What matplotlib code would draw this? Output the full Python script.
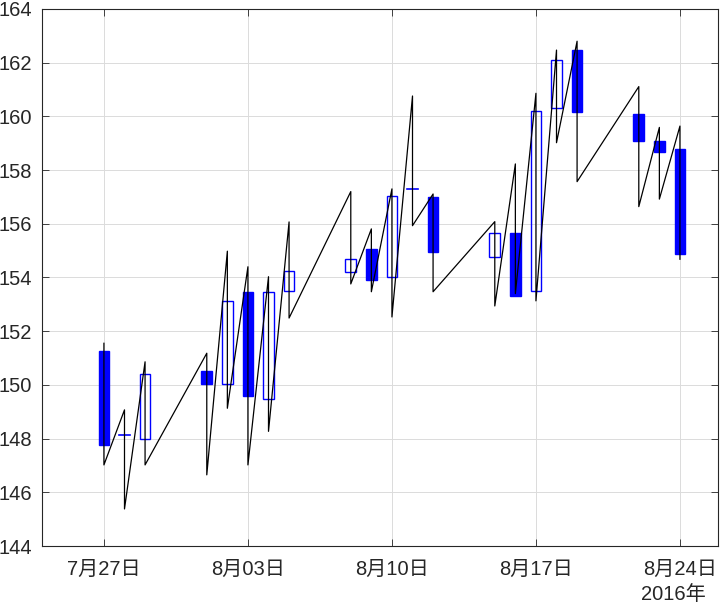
import matplotlib
matplotlib.use("Agg")
import matplotlib.pyplot as plt
import matplotlib.dates as mdates
import matplotlib.transforms as mtransforms
import numpy as np

plt.rcParams['font.family'] = ['Liberation Sans', 'Noto Sans CJK JP', 'DejaVu Sans']

# trading days, Jul 27 - Aug 24 2016
dates = np.array([
    "2016-07-27", "2016-07-28", "2016-07-29",
    "2016-08-01", "2016-08-02", "2016-08-03", "2016-08-04", "2016-08-05",
    "2016-08-08", "2016-08-09", "2016-08-10", "2016-08-11", "2016-08-12",
    "2016-08-15", "2016-08-16", "2016-08-17", "2016-08-18", "2016-08-19",
    "2016-08-22", "2016-08-23", "2016-08-24",
], dtype="datetime64[D]")

opens = np.array([
    151.25, 148.12, 147.97,
    150.52, 150.02, 153.45, 149.46, 153.49,
    154.19, 155.06, 154.03, 157.30, 156.99,
    154.75, 155.66, 153.50, 160.30, 162.47,
    160.09, 159.08, 158.79,
])
closes = np.array([
    147.75, 148.12, 150.41,
    150.03, 153.11, 149.58, 153.45, 154.25,
    154.68, 153.90, 157.02, 157.30, 154.96,
    155.65, 153.32, 160.19, 162.09, 160.15,
    159.10, 158.66, 154.89,
])
highs = np.array([
    151.55, 149.07, 150.86,
    151.18, 154.98, 154.40, 154.03, 156.07,
    157.20, 155.81, 157.30, 160.76, 157.11,
    156.08, 158.23, 160.86, 162.47, 162.80,
    161.11, 159.59, 159.64,
])
lows = np.array([
    147.02, 145.38, 147.02,
    146.65, 149.13, 147.02, 148.27, 152.49,
    153.76, 153.47, 152.53, 155.93, 153.47,
    152.94, 153.40, 153.13, 159.02, 157.57,
    156.64, 156.92, 154.68,
])

tick_dates = np.array(["2016-07-27", "2016-08-03", "2016-08-10",
                       "2016-08-17", "2016-08-24"], dtype="datetime64[D]")
y_ticks = np.arange(144, 165, 2)

BLUE = (0, 0, 1)
INK = (0.15, 0.15, 0.15)
FS = 14.5

W, H = 723, 606
fig = plt.figure(figsize=(W / 100, H / 100), dpi=100)
ax = fig.add_axes([42 / W, 1 - 546 / H, (718 - 42) / W, (546 - 9) / H])

x = dates.astype("datetime64[ms]").astype(object)
body_w = 0.52

down = closes < opens
up = closes > opens
flat = closes == opens
lo = np.minimum(opens, closes)
hi = np.maximum(opens, closes)

ax.bar(x[down], (hi - lo)[down], bottom=lo[down], width=body_w,
       color=BLUE, edgecolor=BLUE, linewidth=1.0, zorder=2)
ax.bar(x[up], (hi - lo)[up], bottom=lo[up], width=body_w,
       facecolor="none", edgecolor=BLUE, linewidth=1.0, zorder=2)
for d, c in zip(x[flat], closes[flat]):
    xd = mdates.date2num(d)
    ax.plot([xd - body_w / 2, xd + body_w / 2], [c, c], color=BLUE, lw=1.2, zorder=2)

# wick path: high -> low for each day, then on to the next day's high
wx = np.repeat(mdates.date2num(x), 2)
wy = np.column_stack([highs, lows]).ravel()
ax.plot(wx, wy, color="black", lw=0.9, zorder=3)

x0 = mdates.date2num(np.datetime64("2016-07-27").astype(object))
ax.set_xlim(x0 - 3.01, x0 + 28 + 1.85)
ax.set_ylim(144, 164)

tx = tick_dates.astype(object)
ax.set_xticks(mdates.date2num(tx))
ax.set_xticklabels([f"{d.month}月{d.day:02d}日" for d in tx])
ax.set_yticks(y_ticks)
ax.set_yticklabels([str(v) for v in y_ticks])

ax.grid(True, color=(0.86, 0.86, 0.86), lw=0.7, zorder=0)
ax.set_axisbelow(True)
ax.tick_params(direction="in", top=True, right=True, length=5, width=0.6,
               colors=INK, labelsize=FS)
ax.tick_params(axis="x", pad=10)
ax.tick_params(axis="y", pad=7)
for s in ax.spines.values():
    s.set_color(INK)
    s.set_linewidth(0.8)

# year label under the last date tick
trans = mtransforms.blended_transform_factory(ax.transData, ax.transAxes)
off = mtransforms.ScaledTranslation(-7 / 100, -39 / 100, fig.dpi_scale_trans)
ax.text(mdates.date2num(tx[-1]), 0, "2016年", transform=trans + off,
        ha="center", va="top", fontsize=FS, color=INK)

fig.savefig("out.png", dpi=100)
